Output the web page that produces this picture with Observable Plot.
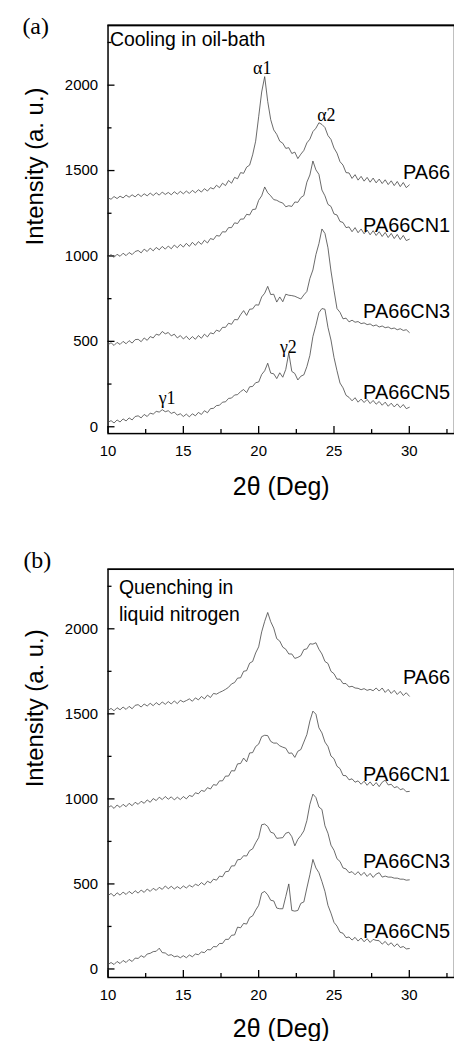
<!DOCTYPE html>
<html><head><meta charset="utf-8">
<script src="https://cdn.jsdelivr.net/npm/d3@7"></script>
<script src="https://cdn.jsdelivr.net/npm/@observablehq/plot@0.6"></script>
<style>
html,body{margin:0;padding:0;background:#fff;overflow:hidden;}
#chart{width:454px;overflow:hidden;}
#chart svg{display:block;}
</style></head><body><div id="chart"></div>
<script>
// 2θ grid (degrees), 0.2° steps from 10 to 30
const twoTheta = d3.range(0, 101).map(i => +(10 + i * 0.2).toFixed(1));
const seriesNames = ["PA66", "PA66CN1", "PA66CN3", "PA66CN5"];

// (a) Cooling in oil-bath
const oilPA66 = [
1340,1332,1348,1336,1350,1340,1356,1344,1358,1346,
1362,1348,1364,1352,1368,1354,1370,1356,1374,1360,
1372,1358,1376,1362,1378,1364,1380,1366,1384,1370,
1388,1374,1394,1380,1400,1392,1414,1400,1426,1412,
1442,1426,1460,1452,1488,1484,1520,1532,1592,1672,
1815,1960,2050,1905,1798,1738,1712,1672,1660,1630,
1634,1600,1608,1570,1596,1618,1662,1684,1728,1748,
1780,1770,1752,1705,1682,1632,1602,1552,1532,1488,
1486,1454,1476,1444,1466,1438,1460,1432,1456,1428,
1450,1424,1446,1418,1440,1412,1436,1406,1430,1400,
1416];
const oilCN1 = [
996,1008,992,1010,998,1016,1002,1020,1008,1026,
1032,1018,1040,1026,1046,1030,1050,1036,1056,1040,
1058,1042,1064,1048,1068,1052,1074,1056,1080,1062,
1084,1068,1092,1076,1102,1096,1120,1116,1142,1140,
1166,1166,1194,1190,1216,1216,1244,1240,1272,1274,
1326,1352,1404,1370,1352,1330,1326,1316,1310,1288,
1294,1290,1316,1314,1342,1354,1432,1474,1556,1504,
1478,1386,1352,1302,1290,1246,1240,1202,1196,1166,
1170,1142,1166,1136,1158,1130,1152,1124,1148,1120,
1142,1114,1138,1108,1132,1102,1126,1096,1120,1090,
1098];
const oilCN3 = [
480,492,476,494,482,500,486,504,490,510,
512,498,520,506,528,520,542,536,558,544,
552,532,542,520,534,514,530,510,528,512,
534,518,542,526,550,544,566,558,582,582,
606,600,628,626,656,680,652,688,690,714,
712,760,782,822,774,776,730,760,732,776,
770,768,764,756,748,772,792,868,918,1008,
1072,1158,1132,1048,912,798,692,670,632,636,
614,624,612,616,604,608,598,602,590,596,
584,590,580,584,574,578,568,574,564,568,
552];
const oilCN5 = [
26,36,22,40,28,46,34,52,40,60,
64,52,72,60,80,74,90,86,100,88,
94,78,86,68,76,60,74,58,76,64,
84,72,94,82,106,108,124,126,144,146,
166,168,186,188,206,218,200,234,236,258,
262,306,328,372,314,310,282,316,290,336,
432,324,312,274,296,304,352,418,528,594,
668,692,688,582,508,406,328,256,228,184,
172,152,170,144,162,142,160,136,154,132,
148,126,144,120,138,116,134,112,130,106,
114];

// (b) Quenching in liquid nitrogen
const lnPA66 = [
1520,1532,1518,1536,1524,1540,1526,1544,1530,1550,
1554,1540,1558,1546,1562,1548,1566,1552,1570,1556,
1572,1558,1576,1560,1580,1570,1578,1588,1574,1594,
1582,1602,1588,1610,1596,1620,1616,1626,1634,1644,
1656,1676,1684,1710,1712,1750,1754,1798,1808,1858,
1894,1982,2044,2096,2042,2004,1942,1928,1892,1880,
1852,1852,1826,1832,1842,1878,1882,1912,1910,1918,
1880,1852,1808,1796,1750,1736,1704,1704,1678,1678,
1658,1662,1652,1650,1642,1648,1638,1644,1636,1652,
1634,1652,1626,1644,1620,1638,1614,1632,1608,1624,
1604];
const lnCN1 = [
948,960,944,964,950,968,954,974,960,980,
968,986,974,994,980,1002,990,1010,996,1014,
998,1012,994,1010,996,1014,1000,1020,1014,1036,
1030,1050,1044,1066,1058,1084,1080,1106,1106,1134,
1134,1166,1164,1206,1208,1240,1218,1270,1272,1308,
1322,1366,1374,1372,1338,1328,1328,1312,1304,1298,
1268,1270,1244,1280,1290,1334,1378,1458,1516,1498,
1418,1388,1334,1308,1252,1236,1192,1178,1138,1136,
1112,1118,1098,1106,1086,1104,1080,1100,1076,1096,
1072,1098,1110,1082,1086,1066,1072,1054,1060,1042,
1044];
const lnCN3 = [
432,444,428,448,434,452,438,456,442,460,
446,464,450,470,456,474,462,480,468,488,
472,486,470,484,472,488,476,492,482,498,
490,508,494,516,506,528,522,546,542,572,
574,606,606,642,644,666,664,696,706,742,
772,848,852,838,804,798,768,770,772,798,
804,778,724,762,784,812,872,968,1028,1008,
952,938,842,798,728,698,648,632,594,588,
566,572,554,572,550,568,544,562,538,558,
566,540,546,540,540,534,534,528,528,522,
524];
const lnCN5 = [
26,38,26,44,32,50,38,56,44,64,
62,78,68,88,92,102,104,122,96,94,
80,84,72,76,66,78,66,82,72,88,
84,100,96,114,112,132,130,150,150,174,
174,198,200,246,242,268,264,302,312,346,
374,446,456,436,404,400,358,354,354,426,
500,344,340,344,386,394,476,554,644,594,
566,514,456,374,328,274,252,216,210,184,
188,170,186,164,182,160,178,156,174,168,
166,146,162,140,154,132,148,126,132,118,
120];

// Series label anchors (value axis) and peak annotations
const oilLabelY = [1486, 1180, 672, 200];
const lnLabelY = [1714, 1143, 632, 222];
const peakNames = ["α1", "α2", "γ1", "γ2"];
const peakX = [20.24, 24.49, 13.92, 21.97];
const peakY = [2099, 1825, 169, 466];

const xMajor = [10, 15, 20, 25, 30];
const xMinor = [12.5, 17.5, 22.5, 27.5, 32.5];
const yMajor = [0, 500, 1000, 1500, 2000];
const yMinor = [250, 750, 1250, 1750, 2250];

function rowsOf(list) {
  const out = [];
  list.forEach((vals, k) => twoTheta.forEach((x, i) => out.push({name: seriesNames[k], x, y: vals[i]})));
  return out;
}

const SANS = "Liberation Sans, Arial, sans-serif";
const SERIF = "Liberation Serif, Times New Roman, serif";
const plain = d => String(d);

function panel({series, yDomain, height, marginTop, marginBottom, labelY, tag, tagDx, tagDy, note, noteDx, noteDy, peaks, xLabelDy, yLabelDy}) {
  const rows = rowsOf(series);
  const labels = seriesNames.map((n, i) => ({name: n, y: labelY[i]}));
  const marks = [
    Plot.frame({stroke: "#000", strokeWidth: 1.5}),
    Plot.ruleY([yDomain[1]], {stroke: "#000", strokeWidth: 1.6}),
    Plot.axisX(xMajor, {tickSize: -7, tickPadding: 19, strokeWidth: 1.3, label: null, fontSize: 15, tickFormat: plain}),
    Plot.axisX(xMinor, {tickSize: -4, tickFormat: () => "", strokeWidth: 1.3, label: null}),
    Plot.axisY(yMajor, {tickSize: -7, tickPadding: 17, strokeWidth: 1.3, label: null, fontSize: 15, tickFormat: plain}),
    Plot.axisY(yMinor, {tickSize: -4, tickFormat: () => "", strokeWidth: 1.3, label: null}),
    Plot.line(rows, {x: "x", y: "y", z: "name", stroke: "#444", strokeWidth: 0.8}),
    Plot.text(labels, {x: 30, y: "y", text: "name", textAnchor: "end", dx: 41, fontSize: 20, fill: "#000"}),
    Plot.text([tag], {frameAnchor: "top-left", lineAnchor: "middle", dx: tagDx, dy: tagDy, fontFamily: SERIF, fontSize: 24, fill: "#000"}),
    Plot.text([note], {frameAnchor: "top-left", lineAnchor: "middle", textAnchor: "start", dx: noteDx, dy: noteDy, fontSize: 19.5, lineHeight: 1.38, fill: "#000"}),
    Plot.text(["2θ (Deg)"], {frameAnchor: "bottom", lineAnchor: "middle", dy: xLabelDy, fontSize: 25, fill: "#000"}),
    Plot.text(["Intensity (a. u.)"], {frameAnchor: "left", lineAnchor: "middle", rotate: -90, dx: -73, dy: yLabelDy, fontSize: 24, fill: "#000"})
  ];
  if (peaks) {
    const pk = peakNames.map((n, i) => ({n, x: peakX[i], y: peakY[i]}));
    marks.push(Plot.text(pk, {x: "x", y: "y", text: "n", fontFamily: SERIF, fontSize: 18, fill: "#000"}));
  }
  return Plot.plot({
    width: 456, height, marginLeft: 108, marginRight: 0, marginTop, marginBottom,
    x: {domain: [10, 33], label: null},
    y: {domain: yDomain, label: null},
    style: {fontFamily: SANS, fontSize: "15px", color: "#000", background: "#fff", overflow: "visible"},
    marks
  });
}

const chart = document.getElementById("chart");
chart.append(panel({
  series: [oilPA66, oilCN1, oilCN3, oilCN5], yDomain: [-40, 2350],
  height: 520, marginTop: 25, marginBottom: 85, labelY: oilLabelY,
  tag: "(a)", tagDx: -86, tagDy: 1,
  note: "Cooling in oil-bath", noteDx: 2, noteDy: 12,
  peaks: true, xLabelDy: 54, yLabelDy: 16
}));
chart.append(panel({
  series: [lnPA66, lnCN1, lnCN3, lnCN5], yDomain: [-50, 2350],
  height: 526, marginTop: 51, marginBottom: 65, labelY: lnLabelY,
  tag: "(b)", tagDx: -85, tagDy: -9,
  note: "Quenching in\nliquid nitrogen", noteDx: 11, noteDy: 29.5,
  peaks: false, xLabelDy: 52, yLabelDy: 14
}));
</script></body></html>
